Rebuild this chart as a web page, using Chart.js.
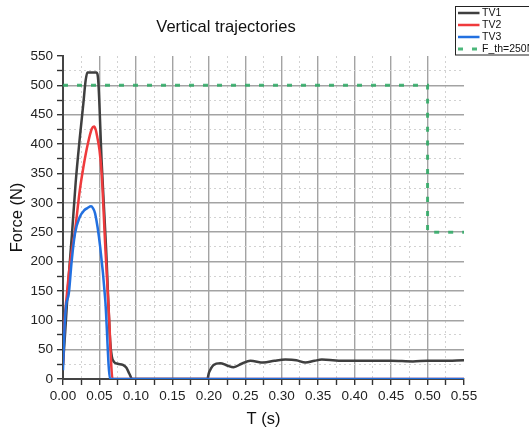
<!DOCTYPE html>
<html>
<head>
<meta charset="utf-8">
<title>Vertical trajectories</title>
<script src="https://cdn.jsdelivr.net/npm/chart.js@4.4.1/dist/chart.umd.min.js"></script>
<style>
  body { margin: 0; background: #fff; }
  canvas { display: block; }
</style>
</head>
<body>
<canvas id="forceChart" width="529" height="434"></canvas>
<script>
// values (time in s, force in N)
const tv1T = [0, 0.003, 0.0073, 0.0125, 0.0174, 0.023, 0.028, 0.031, 0.0335, 0.046, 0.0485, 0.053, 0.059, 0.0646, 0.067, 0.070, 0.075, 0.082, 0.087, 0.091, 0.095,
    0.198, 0.200, 0.203, 0.2065, 0.2157, 0.225, 0.234, 0.245, 0.257, 0.275, 0.29, 0.305, 0.32, 0.3325, 0.345, 0.355, 0.37, 0.381, 0.40, 0.42, 0.45, 0.48, 0.50, 0.52, 0.55];
const tv1F = [25, 80, 165, 250, 335, 410, 470, 508, 522, 522, 505, 370, 225, 66, 38, 29, 26, 24, 19, 9, 0,
    0, 10, 18, 24, 27, 23, 20, 26, 31, 28, 31, 33, 32, 28, 31, 33, 32, 31, 31, 31, 31, 30, 31, 31, 32];

const tv2T = [0, 0.002, 0.005, 0.0096, 0.0165, 0.023, 0.028, 0.034, 0.0395, 0.0426, 0.045, 0.047, 0.050, 0.053, 0.058, 0.063, 0.068, 0.55];
const tv2F = [25, 95, 140, 197, 253, 321, 361, 400, 426, 430, 424, 412, 390, 350, 225, 110, 0, 0];

const tv3T = [0, 0.002, 0.004, 0.008, 0.012, 0.0165, 0.023, 0.029, 0.0335, 0.0385, 0.041, 0.044, 0.051, 0.058, 0.0646, 0.55];
const tv3F = [15, 85, 123, 146, 202, 248, 276, 287, 291, 294, 291, 282, 225, 134, 0, 0];

const thT = [0, 0.5, 0.5, 0.55];
const thF = [500, 500, 250, 250];

const seriesNames = ["TV1", "TV2", "TV3", "F_th=250N"];
const chartTitle = "Vertical trajectories";
const xTitle = "T (s)";
const yTitle = "Force (N)";

const FONT = '"Liberation Sans", Arial, sans-serif';

function toPoints(ts, fs) {
    return ts.map((t, i) => ({ x: t, y: fs[i] }));
}

function isMajor(v, step) {
    return Math.abs(v / step - Math.round(v / step)) < 1e-6;
}

function gridColor(ctx, step, max) {
    const v = ctx.tick ? ctx.tick.value : 0;
    if (v <= 1e-9 || Math.abs(v - max) < 1e-6) return "rgba(0,0,0,0)";
    return isMajor(v, step) ? "#a3a3a3" : "#d2d2d2";
}

function gridDash(ctx, step) {
    if (!ctx.tick) return [];
    return isMajor(ctx.tick.value, step) ? [] : [2, 3];
}

// title drawn off-centre like the original
const titlePlugin = {
    id: "offTitle",
    afterDraw(chart) {
        const ctx = chart.ctx;
        ctx.save();
        ctx.font = "16.5px " + FONT;
        ctx.fillStyle = "#111";
        ctx.textAlign = "center";
        ctx.textBaseline = "alphabetic";
        ctx.fillText(chartTitle, 226, 31.5);
        ctx.restore();
    }
};

// boxed legend in the top right corner, running off the edge
const legendPlugin = {
    id: "cornerLegend",
    afterDraw(chart) {
        const ctx = chart.ctx;
        const sets = chart.data.datasets;
        const x = 455.5, y = 6.5, rowH = 12;
        ctx.save();
        ctx.fillStyle = "#fff";
        ctx.fillRect(x, y, 90, rowH * sets.length + 0.5);
        ctx.strokeStyle = "#222";
        ctx.lineWidth = 1;
        ctx.strokeRect(x, y, 90, rowH * sets.length + 0.5);
        sets.forEach((ds, i) => {
            const cy = y + 6.5 + i * rowH;
            ctx.beginPath();
            ctx.setLineDash(ds.borderDash || []);
            ctx.strokeStyle = ds.borderColor;
            ctx.lineWidth = ds.borderWidth;
            ctx.moveTo(x + 2.5, cy);
            ctx.lineTo(x + 24, cy);
            ctx.stroke();
            ctx.setLineDash([]);
            ctx.fillStyle = "#111";
            ctx.font = "10.5px " + FONT;
            ctx.textBaseline = "middle";
            ctx.fillText(ds.label, x + 26.5, cy + 0.5);
        });
        ctx.restore();
    }
};

new Chart(document.getElementById("forceChart"), {
    type: "line",
    data: {
        datasets: [
            {
                label: seriesNames[0],
                data: toPoints(tv1T, tv1F),
                borderColor: "#3f3f3f",
                borderWidth: 2.5,
                order: 3
            },
            {
                label: seriesNames[1],
                data: toPoints(tv2T, tv2F),
                borderColor: "#ef3a3c",
                borderWidth: 2.5,
                order: 2
            },
            {
                label: seriesNames[2],
                data: toPoints(tv3T, tv3F),
                borderColor: "#2270e0",
                borderWidth: 2.5,
                order: 1
            },
            {
                label: seriesNames[3],
                data: toPoints(thT, thF),
                borderColor: "rgba(45,170,100,0.85)",
                borderWidth: 3,
                borderDash: [5, 9],
                tension: 0,
                order: 0
            }
        ]
    },
    options: {
        responsive: false,
        animation: false,
        elements: {
            point: { radius: 0 },
            line: { tension: 0.4, cubicInterpolationMode: "monotone", fill: false }
        },
        layout: {
            padding: { top: 56, right: 65, bottom: 0, left: 0 }
        },
        plugins: {
            legend: { display: false },
            title: { display: false },
            tooltip: { enabled: false }
        },
        scales: {
            x: {
                type: "linear",
                min: 0,
                max: 0.55,
                afterFit: s => { s.height = 55; },
                ticks: {
                    stepSize: 0.025,
                    autoSkip: false,
                    maxRotation: 0,
                    padding: 3,
                    color: "#222",
                    font: { family: FONT, size: 13.5 },
                    callback: v => isMajor(v, 0.05) ? v.toFixed(2) : ""
                },
                grid: {
                    color: ctx => gridColor(ctx, 0.05, 0.55),
                    lineWidth: ctx => (ctx.tick && isMajor(ctx.tick.value, 0.05)) ? 1.4 : 1,
                    tickColor: "#333",
                    tickLength: 6,
                    tickWidth: 1.4
                },
                border: {
                    color: "#444",
                    width: 2,
                    dash: ctx => gridDash(ctx, 0.05)
                },
                title: {
                    display: true,
                    text: xTitle,
                    color: "#111",
                    font: { family: FONT, size: 16.5 },
                    padding: { top: 0, bottom: 5 }
                }
            },
            y: {
                type: "linear",
                min: 0,
                max: 550,
                afterFit: s => { s.width = 63; },
                ticks: {
                    stepSize: 25,
                    autoSkip: false,
                    padding: 4,
                    color: "#222",
                    font: { family: FONT, size: 13.5 },
                    callback: v => isMajor(v, 50) ? String(v) : ""
                },
                grid: {
                    color: ctx => gridColor(ctx, 50, 550),
                    lineWidth: ctx => (ctx.tick && isMajor(ctx.tick.value, 50)) ? 1.4 : 1,
                    tickColor: "#333",
                    tickLength: 6,
                    tickWidth: 1.4
                },
                border: {
                    color: "#444",
                    width: 2,
                    dash: ctx => gridDash(ctx, 50)
                },
                title: {
                    display: true,
                    text: yTitle,
                    color: "#111",
                    font: { family: FONT, size: 16.5 },
                    padding: { top: 8, bottom: 0 }
                }
            }
        }
    },
    plugins: [titlePlugin, legendPlugin]
});
</script>
</body>
</html>
